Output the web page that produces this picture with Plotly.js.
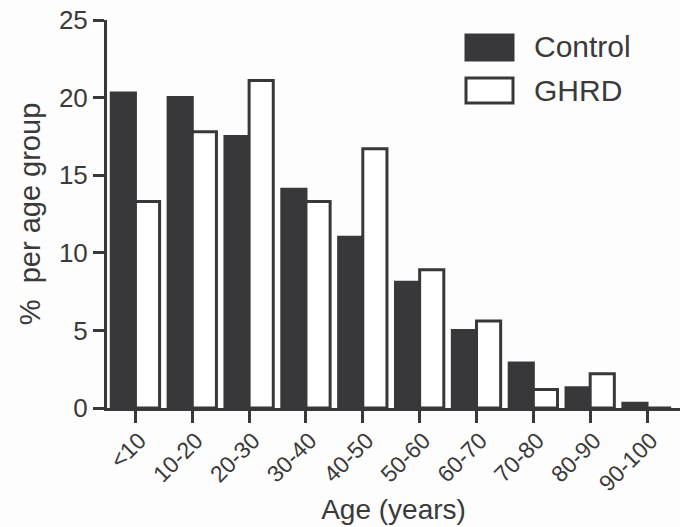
<!DOCTYPE html>
<html>
<head>
<meta charset="utf-8">
<script src="https://cdn.plot.ly/plotly-3.0.1.min.js"></script>
<style>html,body{margin:0;padding:0;background:#fdfdfd;}#chart{width:680px;height:527px;}</style>
</head>
<body>
<div id="chart"></div>
<script>
const categories = ['<10','10-20','20-30','30-40','40-50','50-60','60-70','70-80','80-90','90-100'];
const controlValues = [20.3, 20.0, 17.5, 14.1, 11.0, 8.1, 5.0, 2.9, 1.3, 0.3];
const ghrdValues = [13.3, 17.8, 21.1, 13.3, 16.7, 8.9, 5.6, 1.2, 2.2, 0];
const seriesNames = ['Control', 'GHRD'];
const yTickVals = [0, 5, 10, 15, 20, 25];

const dark = '#38383a';
const txt = '#3a3a3a';
const font = 'Liberation Sans, Arial, sans-serif';

const traces = [
  {type:'bar', name: seriesNames[0], x: categories, y: controlValues,
   marker:{color: dark, line:{color: dark, width: 3}}, showlegend:false},
  {type:'bar', name: seriesNames[1], x: categories, y: ghrdValues,
   marker:{color: '#ffffff', line:{color: dark, width: 3}}, showlegend:false}
];

const layout = {
  width: 680, height: 527,
  margin: {l: 107, r: 0, t: 20, b: 119},
  paper_bgcolor: '#fdfdfd', plot_bgcolor: '#fdfdfd',
  barmode: 'group', bargap: 0.15, bargroupgap: 0,
  font: {family: font, color: txt},
  xaxis: {
    type: 'category', range: [-0.5, 9.58],
    showline: true, linecolor: dark, linewidth: 3,
    ticks: 'outside', ticklen: 12, tickwidth: 3, tickcolor: dark,
    tickangle: -45, tickfont: {size: 23, family: font, color: txt},
    ticklabelshift: 4, ticklabelstandoff: -5,
    showgrid: false, zeroline: false,
    title: {text: 'Age (years)', font: {size: 28, family: font, color: txt}, standoff: 4}
  },
  yaxis: {
    range: [0, 25], tickvals: yTickVals,
    showline: true, linecolor: dark, linewidth: 3,
    ticks: 'outside', ticklen: 11, tickwidth: 3, tickcolor: dark,
    tickfont: {size: 26, family: font, color: txt},
    showgrid: false, zeroline: false,
    title: {text: '%  per age group', font: {size: 29, family: font, color: txt}, standoff: 10}
  },
  shapes: [
    {type:'rect', xref:'paper', yref:'paper', x0:(466-107)/573, x1:(513-107)/573, y0:(408-60)/388, y1:(408-35)/388,
     fillcolor: dark, line:{color: dark, width: 3}},
    {type:'rect', xref:'paper', yref:'paper', x0:(466-107)/573, x1:(513-107)/573, y0:(408-103)/388, y1:(408-78)/388,
     fillcolor: '#ffffff', line:{color: dark, width: 3}}
  ],
  annotations: [
    {xref:'paper', yref:'paper', x:(532-107)/573, y:(408-47)/388, xanchor:'left', yanchor:'middle',
     text: seriesNames[0], showarrow:false, font:{size: 30, family: font, color: txt}},
    {xref:'paper', yref:'paper', x:(532-107)/573, y:(408-90)/388, xanchor:'left', yanchor:'middle',
     text: seriesNames[1], showarrow:false, font:{size: 30, family: font, color: txt}}
  ]
};

Plotly.newPlot('chart', traces, layout, {displayModeBar: false, staticPlot: true});
</script>
</body>
</html>
